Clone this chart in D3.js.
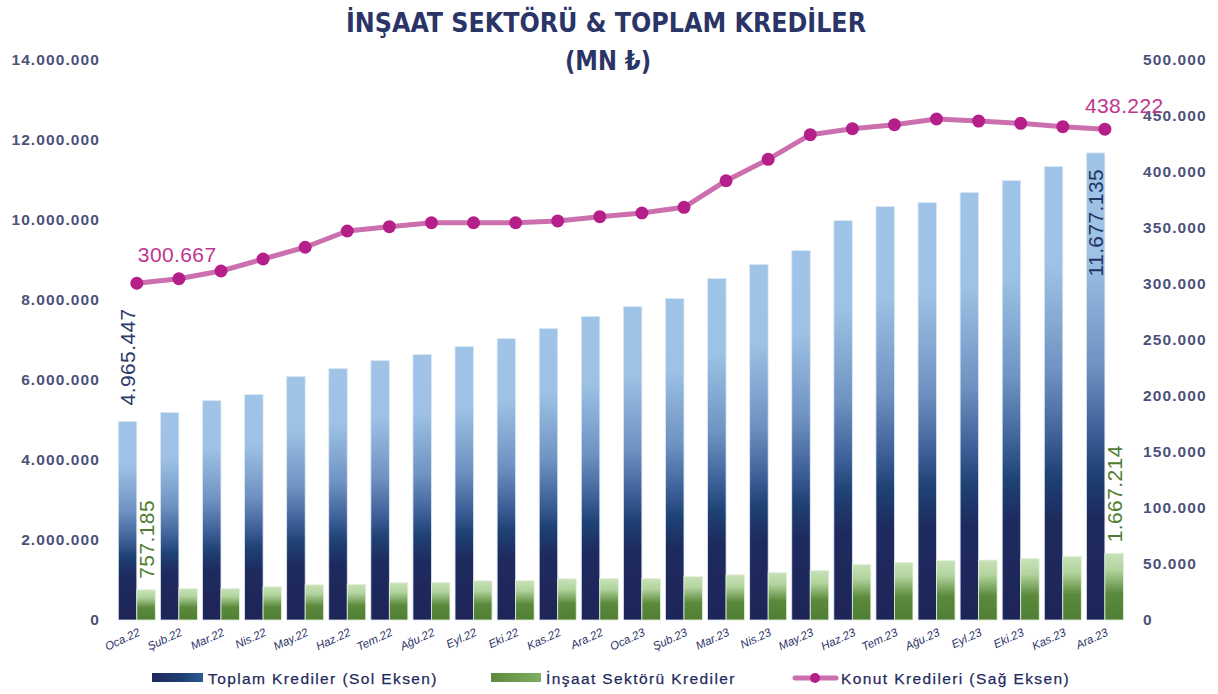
<!DOCTYPE html>
<html>
<head>
<meta charset="utf-8">
<script src="https://cdn.jsdelivr.net/npm/d3@7"></script>
<style>
  html, body { margin: 0; padding: 0; background: #ffffff; }
  svg { display: block; }
</style>
</head>
<body>
<svg id="chart" width="1218" height="694"></svg>
<script>
// ---------------- DATA ----------------
const categories = ["Oca.22","Şub.22","Mar.22","Nis.22","May.22","Haz.22","Tem.22","Ağu.22","Eyl.22","Eki.22","Kas.22","Ara.22",
                    "Oca.23","Şub.23","Mar.23","Nis.23","May.23","Haz.23","Tem.23","Ağu.23","Eyl.23","Eki.23","Kas.23","Ara.23"];
const toplamKrediler = [4965447, 5190000, 5490000, 5640000, 6090000, 6290000, 6490000, 6640000, 6840000, 7040000, 7290000, 7590000,
                        7840000, 8040000, 8540000, 8890000, 9240000, 9990000, 10340000, 10440000, 10690000, 10990000, 11340000, 11677135];
const insaatKrediler = [757185, 790000, 790000, 830000, 880000, 890000, 930000, 940000, 980000, 990000, 1030000, 1040000,
                        1040000, 1090000, 1130000, 1190000, 1240000, 1390000, 1440000, 1490000, 1500000, 1540000, 1590000, 1667214];
const konutKrediler = [300667, 304700, 311600, 322300, 332800, 347300, 351200, 354700, 354700, 354700, 356300, 360100,
                       363400, 368500, 392200, 411300, 433300, 438700, 442200, 447300, 445500, 443500, 440500, 438222];
const leftTicks = [0, 2000000, 4000000, 6000000, 8000000, 10000000, 12000000, 14000000];
const rightTicks = [0, 50000, 100000, 150000, 200000, 250000, 300000, 350000, 400000, 450000, 500000];
const titleLines = ["İNŞAAT SEKTÖRÜ & TOPLAM KREDİLER", "(MN ₺)"];
const legendLabels = ["Toplam Krediler (Sol Eksen)", "İnşaat Sektörü Krediler", "Konut Kredileri (Sağ Eksen)"];

// ---------------- SETUP ----------------
const svg = d3.select("#chart");
const locale = d3.formatLocale({decimal: ",", thousands: ".", grouping: [3], currency: ["", ""]});
const fmt = locale.format(",d");

const plotTop = 60, plotBottom = 620;
const x = d3.scaleBand().domain(categories).range([114.1, 1127.6]).paddingInner(0.121).paddingOuter(0.1);
const xSub = d3.scaleBand().domain(["toplam", "insaat"]).range([0, x.bandwidth()]);
const yL = d3.scaleLinear().domain([0, 14000000]).range([plotBottom, plotTop]);
const yR = d3.scaleLinear().domain([0, 500000]).range([plotBottom, plotTop]);

const defs = svg.append("defs");
const gBlue = defs.append("linearGradient").attr("id", "gBlue").attr("x1", 0).attr("y1", 0).attr("x2", 0).attr("y2", 1);
[[0, "#9fc4e7"], [0.22, "#9dc2e5"], [0.45, "#6f93c2"], [0.6, "#3d5f98"], [0.68, "#1f4275"], [0.78, "#1e2a5e"], [1, "#1e2558"]]
  .forEach(s => gBlue.append("stop").attr("offset", s[0]).attr("stop-color", s[1]));
const gGreen = defs.append("linearGradient").attr("id", "gGreen").attr("x1", 0).attr("y1", 0).attr("x2", 0).attr("y2", 1);
[[0, "#c8e2b8"], [0.25, "#b2d49e"], [0.6, "#5b8a3c"], [1, "#507e34"]]
  .forEach(s => gGreen.append("stop").attr("offset", s[0]).attr("stop-color", s[1]));
const gBlueLeg = defs.append("linearGradient").attr("id", "gBlueLeg").attr("x1", 0).attr("y1", 0).attr("x2", 1).attr("y2", 0);
[[0, "#1e2a5e"], [0.6, "#1f3f73"], [1, "#2b5a93"]].forEach(s => gBlueLeg.append("stop").attr("offset", s[0]).attr("stop-color", s[1]));
const gGreenLeg = defs.append("linearGradient").attr("id", "gGreenLeg").attr("x1", 0).attr("y1", 0).attr("x2", 1).attr("y2", 0);
[[0, "#5b8a3c"], [1, "#7fae62"]].forEach(s => gGreenLeg.append("stop").attr("offset", s[0]).attr("stop-color", s[1]));

// ---------------- TITLE ----------------
const titleFont = "'Liberation Sans Narrow', 'DejaVu Sans Condensed', 'Arial Narrow', sans-serif";
svg.append("text").attr("x", 606).attr("y", 32).attr("text-anchor", "middle")
  .attr("font-family", titleFont).attr("font-weight", "bold").attr("font-size", 27)
  .attr("fill", "#2b3467").attr("textLength", 520).attr("lengthAdjust", "spacingAndGlyphs")
  .text(titleLines[0]);
svg.append("text").attr("x", 608).attr("y", 70).attr("text-anchor", "middle")
  .attr("font-family", titleFont).attr("font-weight", "bold").attr("font-size", 27)
  .attr("fill", "#2b3467").attr("textLength", 86).attr("lengthAdjust", "spacingAndGlyphs")
  .text(titleLines[1]);

// ---------------- AXES ----------------
const tickFont = "'Liberation Sans', Arial, sans-serif";
const axL = svg.append("g").attr("transform", "translate(100,0)")
  .call(d3.axisLeft(yL).tickValues(leftTicks).tickFormat(d => fmt(d)).tickSize(0).tickPadding(0));
axL.select(".domain").remove();
axL.selectAll("text").attr("font-family", tickFont).attr("font-weight", "bold").attr("font-size", 15.5)
  .attr("letter-spacing", 1.1).attr("fill", "#4d5278");

const axR = svg.append("g").attr("transform", "translate(1143,0)")
  .call(d3.axisRight(yR).tickValues(rightTicks).tickFormat(d => fmt(d)).tickSize(0).tickPadding(0));
axR.select(".domain").remove();
axR.selectAll("text").attr("font-family", tickFont).attr("font-weight", "bold").attr("font-size", 15.5)
  .attr("letter-spacing", 1.1).attr("fill", "#4d5278");

// x labels
const axX = svg.append("g").attr("transform", `translate(0,${plotBottom})`)
  .call(d3.axisBottom(x).tickSize(0).tickPadding(0));
axX.select(".domain").remove();
axX.selectAll(".tick text")
  .attr("font-family", tickFont).attr("font-size", 11.5).attr("font-style", "italic")
  .attr("fill", "#2b3467").attr("text-anchor", "end")
  .attr("dy", null).attr("y", 0)
  .attr("transform", "translate(4,15) rotate(-25)");

// ---------------- BARS ----------------
const groups = svg.append("g").selectAll("g").data(categories).join("g")
  .attr("transform", d => `translate(${x(d)},0)`);
groups.append("rect")
  .attr("x", xSub("toplam")).attr("width", xSub.bandwidth())
  .attr("y", (d, i) => yL(toplamKrediler[i])).attr("height", (d, i) => plotBottom - yL(toplamKrediler[i]))
  .attr("fill", "url(#gBlue)").attr("stroke", "#dfe8f3").attr("stroke-width", 0.8);
groups.append("rect")
  .attr("x", xSub("insaat")).attr("width", xSub.bandwidth())
  .attr("y", (d, i) => yL(insaatKrediler[i])).attr("height", (d, i) => plotBottom - yL(insaatKrediler[i]))
  .attr("fill", "url(#gGreen)").attr("stroke", "#e6f0df").attr("stroke-width", 0.8);

// ---------------- LINE ----------------
const cx = d => x(d) + x.bandwidth() / 2;
const line = d3.line().x((d, i) => cx(categories[i])).y(d => yR(d));
svg.append("path").datum(konutKrediler).attr("d", line)
  .attr("fill", "none").attr("stroke", "#cc6faf").attr("stroke-width", 5).attr("stroke-linejoin", "round");
svg.append("g").selectAll("circle").data(konutKrediler).join("circle")
  .attr("cx", (d, i) => cx(categories[i])).attr("cy", d => yR(d)).attr("r", 6.5)
  .attr("fill", "#b51f8a");

// ---------------- DATA LABELS ----------------
const labFont = "'Liberation Sans', Arial, sans-serif";
const last = categories.length - 1;
function vLabel(xPos, yPos, txt, color, anchor) {
  svg.append("text").attr("transform", `translate(${xPos},${yPos}) rotate(-90)`)
    .attr("text-anchor", anchor).attr("dy", "0.36em")
    .attr("font-family", labFont).attr("font-size", 21).attr("letter-spacing", 0.4)
    .attr("fill", color).text(txt);
}
const bxT = i => x(categories[i]) + xSub("toplam") + xSub.bandwidth() / 2;
const bxI = i => x(categories[i]) + xSub("insaat") + xSub.bandwidth() / 2;
vLabel(bxT(0), yL(toplamKrediler[0]) - 16, fmt(toplamKrediler[0]), "#2b3a68", "start");
vLabel(bxI(0), yL(insaatKrediler[0]) - 11, fmt(insaatKrediler[0]), "#4f7d32", "start");
vLabel(bxT(last), yL(toplamKrediler[last]) + 16, fmt(toplamKrediler[last]), "#233463", "end");
vLabel(bxI(last), yL(insaatKrediler[last]) - 11, fmt(insaatKrediler[last]), "#4f7d32", "start");

svg.append("text").attr("x", cx(categories[0]) + 1).attr("y", yR(konutKrediler[0]) - 21)
  .attr("font-family", labFont).attr("font-size", 21).attr("letter-spacing", 0.4)
  .attr("fill", "#c0368f").text(fmt(konutKrediler[0]));
svg.append("text").attr("x", cx(categories[last]) - 20).attr("y", yR(konutKrediler[last]) - 16)
  .attr("font-family", labFont).attr("font-size", 21).attr("letter-spacing", 0.4)
  .attr("fill", "#c0368f").text(fmt(konutKrediler[last]));

// ---------------- LEGEND ----------------
const leg = svg.append("g").attr("font-family", labFont).attr("font-size", 15.5).attr("letter-spacing", 1.4)
  .attr("fill", "#1f2a5c").attr("stroke", "#1f2a5c").attr("stroke-width", 0.25);
leg.append("rect").attr("x", 152).attr("y", 673).attr("width", 51).attr("height", 9).attr("fill", "url(#gBlueLeg)").attr("stroke", "none");
leg.append("text").attr("x", 208).attr("y", 684).text(legendLabels[0]);
leg.append("rect").attr("x", 491).attr("y", 673).attr("width", 50).attr("height", 9).attr("fill", "url(#gGreenLeg)").attr("stroke", "none");
leg.append("text").attr("x", 546).attr("y", 684).text(legendLabels[1]);
leg.append("line").attr("x1", 795).attr("x2", 836).attr("y1", 678).attr("y2", 678).attr("stroke", "#cc6faf").attr("stroke-width", 5).attr("stroke-linecap", "round");
leg.append("circle").attr("cx", 815).attr("cy", 678).attr("r", 5).attr("fill", "#b51f8a").attr("stroke", "none");
leg.append("text").attr("x", 841).attr("y", 684).text(legendLabels[2]);
</script>
</body>
</html>
